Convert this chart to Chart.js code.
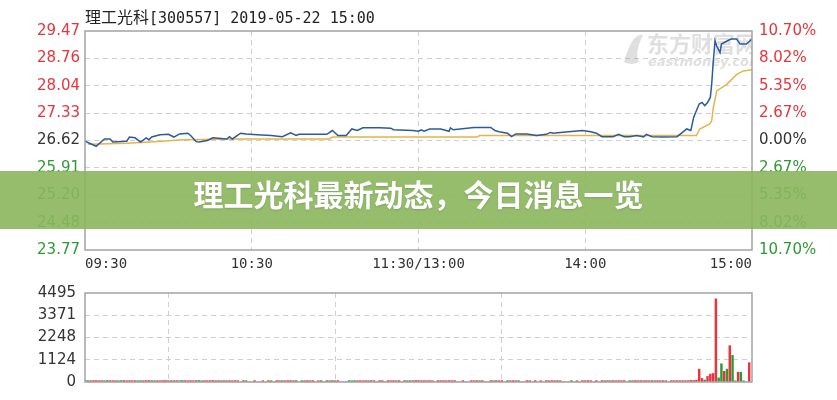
<!DOCTYPE html>
<html>
<head>
<meta charset="utf-8">
<script src="https://cdn.jsdelivr.net/npm/chart.js@4/dist/chart.umd.min.js"></script>
<style>
  html, body { margin: 0; padding: 0; background: #fff; }
  #wrap { position: relative; width: 837px; height: 400px; overflow: hidden; }
  canvas { position: absolute; left: 0; }
  #title {
    position: absolute; left: 85px; top: 4px; height: 20px; line-height: 20px;
    font: 15px "DejaVu Sans Mono", "Noto Sans CJK SC", monospace; color: #222; white-space: nowrap;
  }
  #title .cn { font: 16px "Noto Sans CJK SC", sans-serif; }
  #banner {
    position: absolute; left: 0; top: 171px; width: 837px; height: 58px; line-height: 58px;
    background: rgba(138, 182, 92, 0.9); color: #fff; text-align: center;
    font: bold 30px "Noto Sans CJK SC", sans-serif; text-shadow: 0 1px 2px rgba(0,0,0,0.15);
  }
</style>
</head>
<body>
<div id="wrap">
  <canvas id="chart-price" width="837" height="275" style="top:0"></canvas>
  <canvas id="chart-vol" width="837" height="125" style="top:275px"></canvas>
  <div id="title"><span class="cn">理工光科</span>[300557] 2019-05-22 15:00</div>
  <div id="banner">理工光科最新动态，今日消息一览</div>
</div>
<script>
// 分时数据（分钟序号 0 = 09:30, 120 = 11:30/13:00, 240 = 15:00）
const prevClose = 26.62;
const priceTicks = [29.47, 28.76, 28.04, 27.33, 26.62, 25.91, 25.20, 24.48, 23.77];
const pctLabels = ['10.70%', '8.02%', '5.35%', '2.67%', '0.00%', '2.67%', '5.35%', '8.02%', '10.70%'];
const timeTicks = [0, 60, 120, 180, 240];
const timeLabels = ['09:30', '10:30', '11:30/13:00', '14:00', '15:00'];
const volTicks = [4495, 3371, 2248, 1124, 0];

const priceMin = [0, 4, 7, 9, 10, 15, 16, 18, 20, 22, 23, 24, 27, 30, 32, 34, 37, 38, 40, 41,
  44, 46, 51, 52, 53, 56, 58, 62, 67, 71, 74, 76, 77, 87, 89, 91, 94, 96, 98, 100,
  106, 110, 111, 118, 120, 121, 122, 124, 128, 131, 131.5, 132.5, 140, 146, 147.5, 149, 150.5, 152, 153.5, 155,
  159, 162.5, 166, 167.5, 168.5, 171, 179, 182, 184, 186, 190, 192, 194, 196, 198.5, 201, 202, 204, 208, 213,
  215, 216.5, 218, 219, 219.5, 221, 222, 223, 224, 225, 225.5, 226, 226.7, 227.3, 228.5, 229, 231, 232.5, 234.5, 235.7,
  238, 240];
const priceVal = [26.60, 26.47, 26.66, 26.66, 26.58, 26.60, 26.71, 26.69, 26.58, 26.69, 26.64, 26.71, 26.77, 26.78, 26.71, 26.79, 26.81, 26.75, 26.59, 26.58,
  26.62, 26.69, 26.66, 26.72, 26.66, 26.81, 26.79, 26.77, 26.75, 26.72, 26.82, 26.75, 26.78, 26.78, 26.88, 26.75, 26.75, 26.92, 26.88, 26.95,
  26.95, 26.94, 26.90, 26.88, 26.86, 26.90, 26.86, 26.92, 26.92, 26.86, 26.95, 26.90, 26.96, 26.96, 26.88, 26.85, 26.83, 26.81, 26.72, 26.79,
  26.79, 26.75, 26.78, 26.83, 26.81, 26.83, 26.88, 26.85, 26.81, 26.72, 26.72, 26.78, 26.72, 26.72, 26.75, 26.71, 26.78, 26.72, 26.71, 26.72,
  26.83, 26.92, 26.88, 27.22, 27.31, 27.57, 27.61, 27.53, 27.61, 27.74, 28.09, 28.61, 29.22, 29.08, 28.91, 29.13, 29.21, 29.26, 29.26, 29.13,
  29.13, 29.26];

const avgMin = [1, 5, 15, 25, 35, 55, 88, 89, 106, 141, 142, 220, 221.2, 224.9, 225.5, 226.1, 227.3, 230.9, 234.5, 236.9, 240];
const avgVal = [26.52, 26.53, 26.55, 26.59, 26.64, 26.66, 26.66, 26.71, 26.71, 26.71, 26.75, 26.75, 26.92, 27.06, 27.14, 27.48, 27.91, 28.08, 28.34, 28.43, 28.46];

// 成交量（每分钟一根）
const volume = [
  80, 70, 65, 70, 75, 65, 70, 65, 75, 70, 65, 70, 65, 70, 75, 65, 70, 65, 70, 65,
  70, 65, 70, 75, 70, 65, 70, 65, 70, 75, 65, 70, 65, 70, 65, 75, 70, 65, 70, 65,
  70, 75, 65, 70, 65, 70, 75, 65, 70, 65, 70, 65, 70, 65, 70, 65, 0, 70, 65, 0,
  0, 70, 0, 0, 65, 0, 70, 65, 0, 70, 65, 70, 65, 70, 70, 65, 70, 0, 70, 65,
  70, 65, 70, 0, 65, 70, 0, 70, 65, 70, 65, 70, 0, 0, 0, 70, 65, 70, 65, 70,
  65, 70, 65, 70, 65, 0, 70, 65, 0, 70, 65, 70, 65, 70, 0, 70, 65, 70, 65, 75,
  70, 65, 70, 65, 70, 65, 0, 70, 65, 70, 65, 70, 65, 70, 0, 0, 70, 0, 0, 70,
  65, 70, 65, 70, 0, 0, 70, 65, 70, 65, 70, 0, 70, 65, 70, 65, 70, 0, 0, 70,
  65, 0, 70, 0, 65, 0, 70, 65, 70, 65, 70, 65, 0, 0, 0, 70, 0, 65, 0, 70,
  65, 70, 65, 0, 70, 0, 70, 65, 70, 65, 70, 65, 70, 65, 70, 0, 70, 65, 70, 65,
  70, 65, 70, 65, 70, 65, 70, 65, 70, 65, 0, 70, 65, 70, 65, 70, 65, 70, 80, 75,
  90, 650, 180, 100, 280, 400, 430, 4200, 210, 920, 540, 650, 1836, 1344, 60, 496, 496, 60, 0, 975,
  0];
// r = 上涨（红），g = 下跌（绿）
const volDir = (
  'ggrrrrrggrrrggrrrrrg' + 'grrrggrrrrrgrrggrrrr' + 'rggrrrrgrrgrrrrrrrgr' + 'rrrgrrrgrrrgrrrrgrgr' +
  'rrrrrgrrgrgrrrrgggrr' + 'rrgrrrrrrrrrgrgrggrr' + 'rrrrrrrrrrrrrrrrrgrr' + 'rrgrrrrgrrrrgrrrgrrr' +
  'rrrgrrrrrrgrrrrgrrrr' + 'rrrgrrrrgrrrrrrrgrrr' + 'rrrrrgrrrrrrrrrrrrrr' + 'rrrgrrrrggrgrggrgggrr'
).split('');

const RED = '#e8353b';
const GREEN = '#2f9a35';
const TEXT = '#333';
const GRID = '#cfcfcf';
const TICK_FONT = { family: '"DejaVu Sans", sans-serif', size: 15 };

const edgeAware = (ticks) => (c) => (c.index === 0 || c.index === ticks.length - 1) ? 'rgba(0,0,0,0)' : GRID;

// 绘图区外框 + 水印
const frame = {
  id: 'frame',
  beforeDatasetsDraw(chart, args, opts) {
    if (!opts.watermark) return;
    const { ctx: c, chartArea: a } = chart;
    c.save();
    c.beginPath();
    c.rect(a.left, a.top, a.right - a.left, a.bottom - a.top);
    c.clip();
    c.fillStyle = 'rgba(150,150,150,0.3)';
    c.beginPath();
    c.moveTo(a.right - 128, a.top + 31);
    c.quadraticCurveTo(a.right - 120, a.top + 2, a.right - 109, a.top + 4);
    c.quadraticCurveTo(a.right - 118, a.top + 22, a.right - 113, a.top + 31);
    c.quadraticCurveTo(a.right - 121, a.top + 35, a.right - 128, a.top + 31);
    c.fill();
    c.font = 'bold 22px "Noto Sans CJK SC", sans-serif';
    c.textBaseline = 'middle';
    c.fillText('东方财富网', a.right - 105, a.top + 13);
    c.font = 'italic bold 13px "DejaVu Sans", sans-serif';
    c.fillText('eastmoney.com', a.right - 104, a.top + 32);
    c.restore();
  },
  afterDraw(chart) {
    const { ctx: c, chartArea: a } = chart;
    c.save();
    c.strokeStyle = '#a3a3a3';
    c.lineWidth = 1.5;
    c.strokeRect(a.left, a.top, a.right - a.left, a.bottom - a.top);
    c.restore();
  }
};

const timeAxis = (showLabels) => ({
  type: 'linear',
  min: 0,
  max: 240,
  afterBuildTicks: (s) => { s.ticks = timeTicks.map(v => ({ value: v })); },
  afterFit: (s) => { s.height = showLabels ? 25 : 0; },
  grid: { color: edgeAware(timeTicks), drawTicks: false, lineWidth: 1 },
  border: { display: false, dash: [5, 4] },
  ticks: {
    display: showLabels,
    autoSkip: false,
    maxRotation: 0,
    align: 'inner',
    padding: 6,
    color: TEXT,
    font: { family: '"DejaVu Sans Mono", monospace', size: 14 },
    callback: (v, i) => timeLabels[i]
  }
});

new Chart(document.getElementById('chart-price'), {
  type: 'line',
  data: {
    datasets: [
      {
        label: '价格',
        data: priceMin.map((m, i) => ({ x: m, y: priceVal[i] })),
        borderColor: '#2c5a9c',
        borderWidth: 1.5,
        pointRadius: 0,
        tension: 0,
        yAxisID: 'y'
      },
      {
        label: '均价',
        data: avgMin.map((m, i) => ({ x: m, y: avgVal[i] })),
        borderColor: '#e6b447',
        borderWidth: 1.5,
        pointRadius: 0,
        tension: 0,
        yAxisID: 'y'
      }
    ]
  },
  plugins: [frame],
  options: {
    responsive: false,
    devicePixelRatio: 1,
    animation: false,
    layout: { padding: { top: 31, left: 0, right: 0, bottom: 0 } },
    plugins: {
      legend: { display: false },
      tooltip: { enabled: false },
      frame: { watermark: true }
    },
    scales: {
      x: timeAxis(true),
      y: {
        position: 'left',
        min: priceTicks[priceTicks.length - 1],
        max: priceTicks[0],
        afterBuildTicks: (s) => { s.ticks = priceTicks.map(v => ({ value: v })); },
        afterFit: (s) => { s.width = 85; },
        grid: { color: edgeAware(priceTicks), drawTicks: false },
        border: { display: false, dash: [5, 4] },
        ticks: {
          autoSkip: false,
          padding: 5,
          font: TICK_FONT,
          color: (c) => c.index < 4 ? RED : (c.index === 4 ? TEXT : GREEN),
          callback: (v, i) => priceTicks[i].toFixed(2)
        }
      },
      y2: {
        position: 'right',
        min: priceTicks[priceTicks.length - 1],
        max: priceTicks[0],
        afterBuildTicks: (s) => { s.ticks = priceTicks.map(v => ({ value: v })); },
        afterFit: (s) => { s.width = 85; },
        grid: { display: false, drawTicks: false },
        border: { display: false },
        ticks: {
          autoSkip: false,
          padding: 7,
          font: TICK_FONT,
          color: (c) => c.index < 4 ? RED : (c.index === 4 ? TEXT : GREEN),
          callback: (v, i) => pctLabels[i]
        }
      }
    }
  }
});

new Chart(document.getElementById('chart-vol'), {
  type: 'bar',
  data: {
    datasets: [{
      label: '成交量',
      data: volume.map((v, i) => ({ x: i, y: v })),
      backgroundColor: volDir.map(d => d === 'g' ? GREEN : RED),
      barThickness: 1.8,
      borderWidth: 0
    }]
  },
  plugins: [frame],
  options: {
    responsive: false,
    devicePixelRatio: 1,
    animation: false,
    layout: { padding: { top: 10, left: 0, right: 85, bottom: 9 } },
    plugins: {
      legend: { display: false },
      tooltip: { enabled: false },
      frame: { watermark: false }
    },
    scales: {
      x: Object.assign(timeAxis(false), { offset: false }),
      y: {
        position: 'left',
        min: 0,
        max: volTicks[0],
        afterBuildTicks: (s) => { s.ticks = volTicks.map(v => ({ value: v })); },
        afterFit: (s) => { s.width = 85; },
        grid: { color: edgeAware(volTicks), drawTicks: false },
        border: { display: false, dash: [5, 4] },
        ticks: {
          autoSkip: false,
          padding: 9,
          font: TICK_FONT,
          color: TEXT,
          callback: (v, i) => String(volTicks[i])
        }
      }
    }
  }
});
</script>
</body>
</html>
